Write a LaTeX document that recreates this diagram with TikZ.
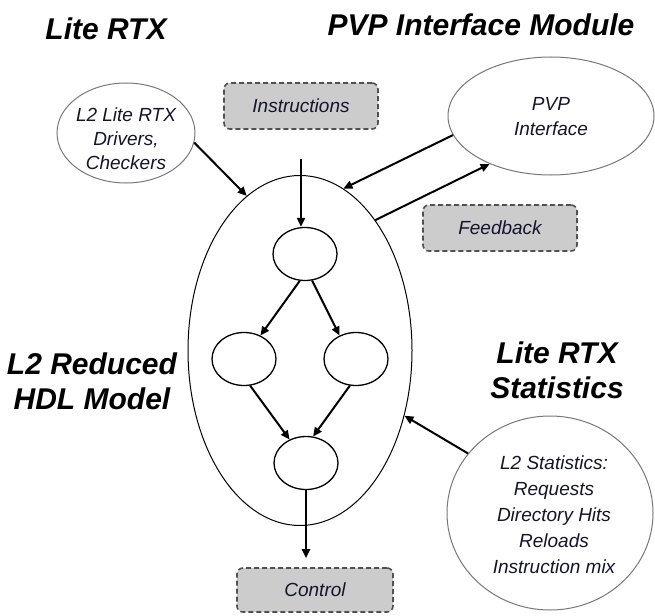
\documentclass[tikz,border=0pt]{standalone}
\usepackage{fontspec}
\setmainfont{Liberation Sans}
\usetikzlibrary{shapes.geometric,arrows.meta}

\definecolor{inkc}{RGB}{20,20,45}
\definecolor{boxfill}{RGB}{204,204,204}
\definecolor{boxedge}{RGB}{80,80,80}
\definecolor{bubblec}{RGB}{120,120,120}

\begin{document}
\begin{tikzpicture}[x=1pt,y=-1pt,
  title/.style={font=\fontsize{30}{35}\selectfont\bfseries\itshape, align=center, inner sep=0},
  txt/.style={font=\fontsize{19}{26}\selectfont\itshape, text=inkc, align=center, inner sep=0},
  outer/.style={ellipse, draw, line width=1pt, minimum width=224pt, minimum height=350pt, inner sep=0},
  state/.style={ellipse, draw, line width=1.3pt, minimum width=64pt, minimum height=53pt, inner sep=0},
  bubble/.style={ellipse, draw=bubblec, line width=1pt, inner sep=0},
  dbox/.style={draw=boxedge, fill=boxfill, dash pattern=on 5pt off 3pt, line width=1.6pt,
    rounded corners=6pt, minimum width=154pt, minimum height=46pt, inner sep=0,
    font=\fontsize{19}{26}\selectfont\itshape, text=inkc},
  arr/.style={-{Triangle[length=9pt,width=8pt]}, line width=2pt}
]
\fill[white] (0,0) rectangle (655,615);
\useasboundingbox (0,0) rectangle (655,615);

% section titles
\node[title] (t1) at (106,29) {Lite RTX};
\node[title] (t2) at (481,25) {PVP Interface Module};
\node[title] (t3) at (92,381) {L2 Reduced\\HDL Model};
\node[title] (t4) at (557,370) {Lite RTX\\Statistics};

% reduced HDL model with its internal states
\node[outer] (hdl) at (300,350.5) {};
\node[state] (s1) at (305,254) {};
\node[state] (s2) at (244,359) {};
\node[state] (s3) at (356,359) {};
\node[state] (s4) at (306,463) {};

% surrounding components
\node[bubble, minimum width=138pt, minimum height=100pt] (drv) at (126,133) {};
\node[txt, font=\fontsize{19}{24}\selectfont\itshape] (drvtext) at (126,139) {L2 Lite RTX\\Drivers,\\Checkers};
\node[bubble, minimum width=206pt, minimum height=118pt] (pvp) at (551,116) {};
\node[txt, font=\fontsize{19}{25}\selectfont\itshape] (pvptext) at (551,117) {PVP\\Interface};
\node[bubble, minimum width=206pt, minimum height=194pt] (stat) at (550,513) {};
\node[txt] (stattext) at (554,515) {L2 Statistics:\\Requests\\Directory Hits\\Reloads\\Instruction mix};

% signal boxes
\node[dbox] (instr) at (301,106) {Instructions};
\node[dbox] (fb) at (500,228) {Feedback};
\node[dbox, minimum width=156pt, minimum height=44pt] (ctrl) at (315,590) {Control};

% connections
\draw[arr] (drv.352) -- (hdl.109);
\draw[arr] (pvp.191) -- (hdl.75);
\draw[arr] (hdl.60) -- (pvp.218);
\draw[arr] (stat.144) -- (hdl.328);
\draw[arr, shorten <=29pt] (instr.south) -- (instr.south |- s1.north);
\draw[arr] (s1.259) -- (s2.55);
\draw[arr] (s1.285) -- (s3.125);
\draw[arr] (s2.283) -- (s4.125);
\draw[arr] (s3.257) -- (s4.75);
\draw[arr, shorten >=9pt] (s4.south) -- (s4.south |- ctrl.north);
\end{tikzpicture}
\end{document}
